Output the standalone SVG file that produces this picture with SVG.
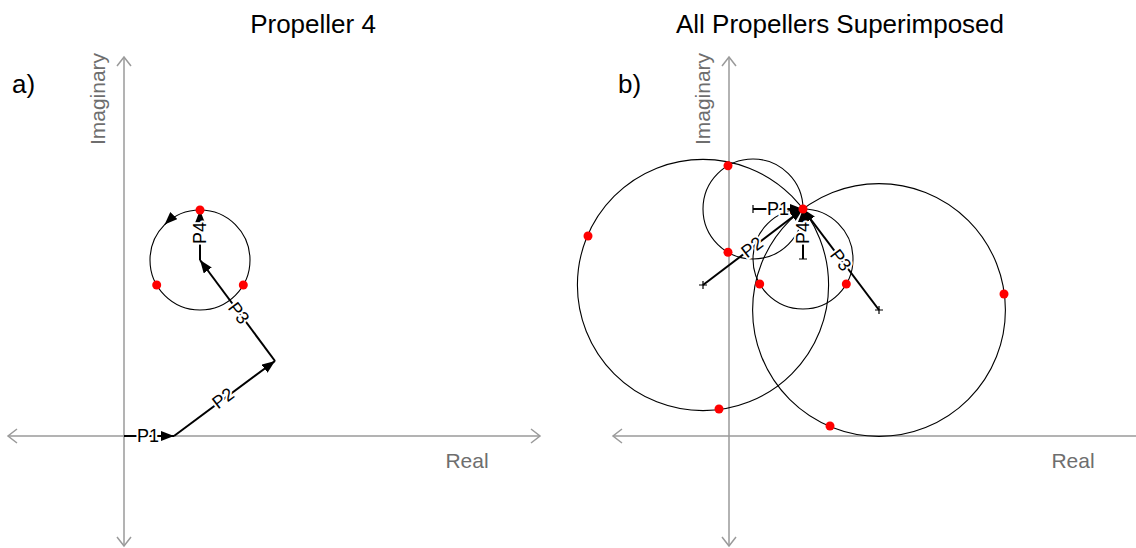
<svg xmlns="http://www.w3.org/2000/svg" width="1136" height="548" viewBox="0 0 1136 548">
<style>
.title{font-family:"Liberation Sans",Arial,sans-serif;font-size:26px;fill:#000;text-anchor:middle}
.tag{font-family:"Liberation Sans",Arial,sans-serif;font-size:26px;fill:#000}
.axlab{font-family:"Liberation Sans",Arial,sans-serif;font-size:21px;fill:#6e6e6e;text-anchor:middle}
.axis{stroke:#9a9a9a;stroke-width:1.5;fill:none}
.circ{stroke:#000;stroke-width:1.1;fill:none}
.vec{stroke:#000;stroke-width:2;fill:none;marker-end:url(#ah)}
.tick{stroke:#000;stroke-width:1.2;fill:none}
.lbl{font-family:"Liberation Sans",Arial,sans-serif;font-size:18px;fill:#000;text-anchor:middle;stroke:#fff;stroke-width:4;paint-order:stroke;stroke-linejoin:round}
.dot{fill:#ff0000}
</style>
<defs>
<marker id="ah" markerUnits="userSpaceOnUse" markerWidth="14" markerHeight="11" refX="13" refY="5" orient="auto">
<path d="M0,0 L13,5 L0,10 z" fill="#000"/>
</marker>
</defs>
<rect width="1136" height="548" fill="#fff"/>

<g id="titles">
<text class="title" x="313" y="33">Propeller 4</text>
<text class="title" x="840" y="33">All Propellers Superimposed</text>
<text class="tag" x="12" y="93">a)</text>
<text class="tag" x="618" y="93">b)</text>
</g>

<g id="axes-a">
<line class="axis" x1="124" y1="57" x2="124" y2="546"/>
<polyline class="axis" points="117,66 124,57 131,66"/>
<polyline class="axis" points="117,537 124,546 131,537"/>
<line class="axis" x1="8" y1="436" x2="540" y2="436"/>
<polyline class="axis" points="17,429 8,436 17,443"/>
<polyline class="axis" points="531,429 540,436 531,443"/>
<text class="axlab" transform="translate(105,99) rotate(-90)">Imaginary</text>
<text class="axlab" x="467" y="468">Real</text>
</g>

<g id="axes-b">
<line class="axis" x1="729" y1="57" x2="729" y2="546"/>
<polyline class="axis" points="722,66 729,57 736,66"/>
<polyline class="axis" points="722,537 729,546 736,537"/>
<line class="axis" x1="613" y1="436" x2="1136" y2="436"/>
<polyline class="axis" points="622,429 613,436 622,443"/>
<text class="axlab" transform="translate(710,99) rotate(-90)">Imaginary</text>
<text class="axlab" x="1073" y="468">Real</text>
</g>

<g id="circle-a">
<circle class="circ" cx="200" cy="260" r="50"/>
<path d="M175,216.7 A50,50 0 0 0 164.6,224.6" fill="none" stroke="#000" stroke-width="1.1" marker-end="url(#ah)"/>
</g>

<g id="circles-b">
<circle class="circ" cx="753" cy="209" r="50"/>
<circle class="circ" cx="703" cy="285" r="125.6"/>
<circle class="circ" cx="879" cy="310" r="126.4"/>
<circle class="circ" cx="803" cy="259" r="50"/>
</g>

<g id="connectors">
<line class="vec" x1="124" y1="436" x2="174" y2="436"/>
<line class="vec" x1="174" y1="436" x2="275" y2="361"/>
<line class="vec" x1="275" y1="361" x2="200" y2="260"/>
<line class="vec" x1="200" y1="260" x2="200" y2="210"/>

<line class="vec" x1="753" y1="209" x2="803" y2="209"/>
<line class="vec" x1="703" y1="285" x2="803" y2="209"/>
<line class="vec" x1="879" y1="310" x2="803" y2="209"/>
<line class="vec" x1="803" y1="259" x2="803" y2="209"/>
<path class="tick" d="M753,205 V213 M699,285 H707 M703,281 V289 M875,310 H883 M879,306 V314 M799,259 H807"/>
</g>

<g id="labels-a">
<text class="lbl" x="148" y="436" dy="0.35em">P1</text>
<text class="lbl" transform="translate(223,398) rotate(-37)" dy="0.35em">P2</text>
<text class="lbl" transform="translate(239,313) rotate(53)" dy="0.35em">P3</text>
<text class="lbl" transform="translate(200,233) rotate(-90)" dy="0.35em">P4</text>
</g>

<g id="labels-b">
<text class="lbl" x="778" y="209" dy="0.35em">P1</text>
<text class="lbl" transform="translate(752,247) rotate(-37)" dy="0.35em">P2</text>
<text class="lbl" transform="translate(841,260) rotate(53)" dy="0.35em">P3</text>
<text class="lbl" transform="translate(803,233) rotate(-90)" dy="0.35em">P4</text>
</g>

<g id="dots-a">
<circle class="dot" cx="200" cy="210" r="4.5"/>
<circle class="dot" cx="156.7" cy="285" r="4.5"/>
<circle class="dot" cx="243.3" cy="285" r="4.5"/>
</g>

<g id="dots-b">
<circle class="dot" cx="803" cy="209" r="4.5"/>
<circle class="dot" cx="728" cy="165.7" r="4.5"/>
<circle class="dot" cx="728" cy="252.3" r="4.5"/>
<circle class="dot" cx="588" cy="236" r="4.5"/>
<circle class="dot" cx="719" cy="409" r="4.5"/>
<circle class="dot" cx="1004" cy="294" r="4.5"/>
<circle class="dot" cx="830" cy="426" r="4.5"/>
<circle class="dot" cx="759.7" cy="284" r="4.5"/>
<circle class="dot" cx="846.3" cy="284" r="4.5"/>
</g>
</svg>
